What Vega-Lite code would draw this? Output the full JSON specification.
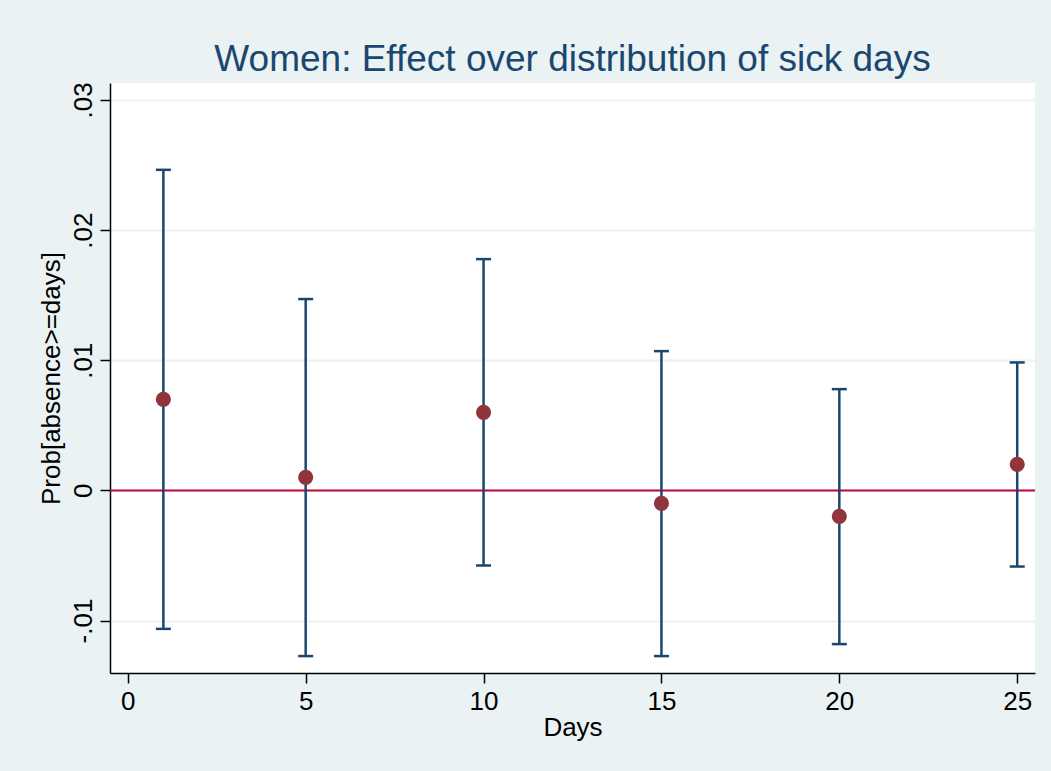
{
  "$schema": "https://vega.github.io/schema/vega-lite/v6.json",
  "width": 925,
  "height": 590,
  "autosize": {"type": "none"},
  "padding": {"left": 110, "top": 83, "right": 16, "bottom": 98},
  "background": "#EAF2F3",
  "config": {
    "font": "Liberation Sans",
    "view": {"fill": "white", "stroke": null},
    "axis": {
      "domainColor": "black",
      "domainWidth": 1.5,
      "tickColor": "black",
      "tickWidth": 1.5,
      "tickSize": 10,
      "labelFontSize": 26,
      "labelColor": "black",
      "titleFontSize": 26,
      "titleFontWeight": "normal",
      "titleColor": "black"
    },
    "axisX": {"grid": false, "labelPadding": 5, "titlePadding": 0},
    "axisY": {
      "grid": true,
      "gridColor": "#EAF2F3",
      "gridWidth": 2,
      "labelAngle": -90,
      "labelAlign": "center",
      "labelBaseline": "bottom",
      "labelPadding": 4,
      "titlePadding": 6
    }
  },
  "title": {
    "text": "Women: Effect over distribution of sick days",
    "fontSize": 37,
    "fontWeight": "normal",
    "color": "#1A476F",
    "anchor": "middle",
    "frame": "group",
    "baseline": "alphabetic",
    "offset": 14,
    "dy": 40
  },
  "data": {
    "values": [
      {"days": 1, "est": 0.0070, "lo": -0.01064, "hi": 0.02463},
      {"days": 5, "est": 0.0010, "lo": -0.01273, "hi": 0.01470},
      {"days": 10, "est": 0.0060, "lo": -0.00577, "hi": 0.01777},
      {"days": 15, "est": -0.0010, "lo": -0.01273, "hi": 0.01070},
      {"days": 20, "est": -0.0020, "lo": -0.01181, "hi": 0.00778},
      {"days": 25, "est": 0.0020, "lo": -0.00585, "hi": 0.00983}
    ]
  },
  "layer": [
    {
      "mark": {"type": "rule", "color": "#C10534", "strokeWidth": 2},
      "data": {"values": [{"z": 0}]},
      "encoding": {
        "y": {"field": "z", "type": "quantitative", "title": "Prob[absence>=days]", "scale": {"domain": [-0.01403, 0.0313], "nice": false, "zero": false}}
      }
    },
    {
      "mark": {"type": "rule", "color": "#1A476F", "strokeWidth": 2.5},
      "encoding": {
        "x": {"field": "days", "type": "quantitative", "title": "Days", "scale": {"domain": [-0.5, 25.5], "nice": false, "zero": false}},
        "y": {"field": "lo", "type": "quantitative", "title": "Prob[absence>=days]", "scale": {"domain": [-0.01403, 0.0313], "nice": false, "zero": false}},
        "y2": {"field": "hi"}
      }
    },
    {
      "mark": {"type": "tick", "orient": "horizontal", "color": "#1A476F", "size": 15, "thickness": 2.5, "opacity": 1},
      "encoding": {
        "x": {"field": "days", "type": "quantitative", "title": "Days", "scale": {"domain": [-0.5, 25.5], "nice": false, "zero": false}},
        "y": {"field": "lo", "type": "quantitative", "title": "Prob[absence>=days]", "scale": {"domain": [-0.01403, 0.0313], "nice": false, "zero": false}}
      }
    },
    {
      "mark": {"type": "tick", "orient": "horizontal", "color": "#1A476F", "size": 15, "thickness": 2.5, "opacity": 1},
      "encoding": {
        "x": {"field": "days", "type": "quantitative", "title": "Days", "scale": {"domain": [-0.5, 25.5], "nice": false, "zero": false}},
        "y": {"field": "hi", "type": "quantitative", "title": "Prob[absence>=days]", "scale": {"domain": [-0.01403, 0.0313], "nice": false, "zero": false}}
      }
    },
    {
      "mark": {"type": "point", "filled": true, "color": "#90353B", "opacity": 1, "size": 230},
      "encoding": {
        "x": {
          "field": "days",
          "type": "quantitative",
          "title": "Days",
          "scale": {"domain": [-0.5, 25.5], "nice": false, "zero": false},
          "axis": {"values": [0, 5, 10, 15, 20, 25]}
        },
        "y": {
          "field": "est",
          "type": "quantitative",
          "title": "Prob[absence>=days]",
          "scale": {"domain": [-0.01403, 0.0313], "nice": false, "zero": false},
          "axis": {
            "values": [-0.01, 0, 0.01, 0.02, 0.03],
            "labelExpr": "datum.value == 0 ? '0' : (datum.value < 0 ? '-' : '') + replace(format(abs(datum.value), '.2f'), '0.', '.')"
          }
        }
      }
    }
  ]
}
